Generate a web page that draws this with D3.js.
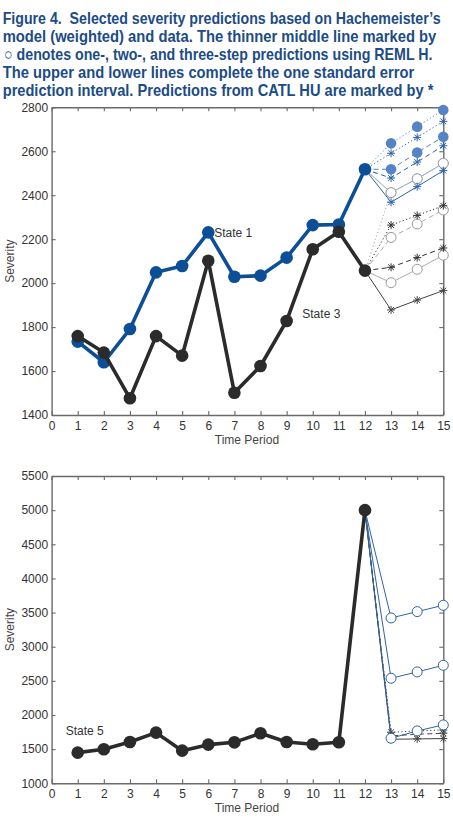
<!DOCTYPE html>
<html>
<head>
<meta charset="utf-8">
<script src="https://cdn.jsdelivr.net/npm/d3@7"></script>
<style>
  body { margin: 0; background: #fff; }
  svg { display: block; }
  .title { white-space: pre; }
</style>
</head>
<body>
<div id="chart-wrapper"></div>
<script>
// ---- data ----
let titleLines = [
  "Figure 4.  Selected severity predictions based on Hachemeister\u2019s",
  "model (weighted) and data. The thinner middle line marked by",
  "\u25CB denotes one-, two-, and three-step predictions using REML H.",
  "The upper and lower lines complete the one standard error",
  "prediction interval. Predictions from CATL HU are marked by *"
]
let periods = [1, 2, 3, 4, 5, 6, 7, 8, 9, 10, 11, 12]
let predPeriods = [13, 14, 15]
let xTicks = [0, 1, 2, 3, 4, 5, 6, 7, 8, 9, 10, 11, 12, 13, 14, 15]
let yTicksTop = [1400, 1600, 1800, 2000, 2200, 2400, 2600, 2800]
let yTicksBottom = [1000, 1500, 2000, 2500, 3000, 3500, 4000, 4500, 5000, 5500]

let state1 = [1734, 1640, 1791, 2049, 2078, 2231, 2029, 2034, 2116, 2264, 2267, 2518]
let state3 = [1759, 1684, 1476, 1759, 1670, 2102, 1501, 1623, 1828, 2154, 2234, 2057]
let state5 = [1449, 1498, 1605, 1742, 1478, 1566, 1600, 1732, 1605, 1572, 1601, 5000]

// predictions for periods 13-15 (upper / middle / lower)
let s1RemlUpper = [2636, 2712, 2788]
let s1RemlMid = [2518, 2594, 2666]
let s1RemlLower = [2412, 2475, 2545]
let s1CatlUpper = [2591, 2663, 2736]
let s1CatlMid = [2478, 2551, 2625]
let s1CatlLower = [2368, 2439, 2512]

let s3RemlUpper = [2412, 2475, 2545]
let s3RemlMid = [2208, 2269, 2333]
let s3RemlLower = [2002, 2063, 2127]
let s3CatlUpper = [2264, 2308, 2352]
let s3CatlMid = [2072, 2116, 2160]
let s3CatlLower = [1878, 1923, 1966]

let s5RemlUpper = [3421, 3514, 3607]
let s5RemlMid = [2538, 2631, 2728]
let s5RemlLower = [1660, 1767, 1855]
let s5CatlUpper = [1747, 1767, 1781]
let s5CatlMid = [1694, 1718, 1733]
let s5CatlLower = [1645, 1650, 1655]

let width = 453
let height = 819
let font = "'Liberation Sans', Arial, Helvetica, sans-serif"
let blueMain = "#0c4f96"
let dark = "#2b2b2b"
let dashed = "5,3.5"
let dotted = "1.2,2.4"

let svg = d3.select("#chart-wrapper")
  .append("svg")
  .attr("width", width)
  .attr("height", height)

// Title (condensed bold: squeeze each line horizontally to the width seen)
let titleBase = [23.5, 41.5, 59.5, 77.5, 95.5]
let titleLen = [438, 434, 429, 412, 431]
svg.append("g")
  .selectAll("text")
  .data(titleLines)
  .enter()
  .append("text")
  .attr("class", "title")
  .attr("font-family", "'Liberation Sans Narrow', 'Arial Narrow', 'Liberation Sans', sans-serif")
  .attr("font-weight", "bold")
  .attr("font-size", 16.5)
  .attr("fill", "#1c4c86")
  .text(d => d)
  .each(function (d, i) {
    let natural = this.getComputedTextLength()
    let sx = titleLen[i] / natural
    d3.select(this).attr("transform",
      `translate(${i == 2 ? 4 : 2.7},${titleBase[i]}) scale(${sx},1)`)
  })

// asterisk marker path (MATLAB style '*')
function star(cx, cy, s) {
  let k = s * 0.72
  return `M${cx - s},${cy}H${cx + s}M${cx},${cy - s}V${cy + s}` +
    `M${cx - k},${cy - k}L${cx + k},${cy + k}M${cx - k},${cy + k}L${cx + k},${cy - k}`
}

function panel(o) {
  let x = d3.scaleLinear().domain([0, 15]).range([o.left, o.right])
  let y = d3.scaleLinear().domain([o.yTicks[0], o.yTicks[o.yTicks.length - 1]]).range([o.bottom, o.top])
  let g = svg.append("g")

  // axes (box with inward ticks)
  g.append("g").attr("class", "ax")
    .attr("transform", `translate(0,${o.bottom})`)
    .call(d3.axisBottom(x).tickValues(xTicks).tickSizeInner(-4).tickSizeOuter(0).tickPadding(6.5).tickFormat(d3.format("d")))
  g.append("g").attr("class", "ax")
    .attr("transform", `translate(0,${o.top})`)
    .call(d3.axisTop(x).tickValues(xTicks).tickSizeInner(-4).tickSizeOuter(0).tickFormat(""))
  g.append("g").attr("class", "ax")
    .attr("transform", `translate(${o.left},0)`)
    .call(d3.axisLeft(y).tickValues(o.yTicks).tickSizeInner(-4).tickSizeOuter(0).tickPadding(3.5).tickFormat(d3.format("d")))
  g.append("g").attr("class", "ax")
    .attr("transform", `translate(${o.right},0)`)
    .call(d3.axisRight(y).tickValues(o.yTicks).tickSizeInner(-4).tickSizeOuter(0).tickFormat(""))
  g.selectAll(".ax path").attr("stroke", "#6a6a6a").attr("stroke-width", 1.4)
  g.selectAll(".ax line").attr("stroke", "#6a6a6a").attr("stroke-width", 1.1)
  g.selectAll(".ax text").attr("fill", "#333").attr("font-size", 12).attr("font-family", font)

  // axis titles
  g.append("text")
    .attr("x", (o.left + o.right) / 2 - 0.5)
    .attr("y", o.bottom + 29)
    .attr("text-anchor", "middle")
    .attr("font-family", font).attr("font-size", 12).attr("fill", "#444")
    .text("Time Period")
  g.append("text")
    .attr("transform", `translate(14,${(o.top + o.bottom) / 2}) rotate(-90)`)
    .attr("text-anchor", "middle")
    .attr("font-family", font).attr("font-size", 12).attr("fill", "#444")
    .text("Severity")

  let line = d3.line().x(d => x(d.t)).y(d => y(d.v))

  // prediction lines
  o.preds.forEach(p => {
    let pts = [{ t: 12, v: p.anchor }].concat(p.values.map((v, i) => ({ t: predPeriods[i], v: v })))
    g.append("path")
      .attr("d", line(pts))
      .attr("fill", "none")
      .attr("stroke", p.color)
      .attr("stroke-width", p.width || 1)
      .attr("stroke-dasharray", p.dash || null)
    let m = pts.slice(1)
    if (p.marker == "star") {
      g.selectAll(null).data(m).enter().append("path")
        .attr("d", d => star(x(d.t), y(d.v), 4))
        .attr("fill", "none")
        .attr("stroke", p.markColor || p.color)
        .attr("stroke-width", 1)
    } else {
      g.selectAll(null).data(m).enter().append("circle")
        .attr("cx", d => x(d.t))
        .attr("cy", d => y(d.v))
        .attr("r", p.marker == "filled" ? 5.3 : 5)
        .attr("fill", p.marker == "filled" ? p.color : "#fff")
        .attr("stroke", p.markColor || p.color)
        .attr("stroke-width", p.marker == "filled" ? 0 : 1)
    }
  })

  // observed series
  o.series.forEach(s => {
    let pts = s.values.map((v, i) => ({ t: periods[i], v: v }))
    g.append("path")
      .attr("d", line(pts))
      .attr("fill", "none")
      .attr("stroke", s.color)
      .attr("stroke-width", 3.6)
      .attr("stroke-linejoin", "round")
    g.selectAll(null).data(pts).enter().append("circle")
      .attr("cx", d => x(d.t))
      .attr("cy", d => y(d.v))
      .attr("r", 6.3)
      .attr("fill", s.color)
  })

  // labels
  o.labels.forEach(l => {
    g.append("text")
      .attr("x", x(l.t) + l.dx)
      .attr("y", y(l.v))
      .attr("dy", "0.35em")
      .attr("font-family", font).attr("font-size", 12).attr("fill", "#333")
      .text(l.text)
  })
}

let bl1 = "#5583c3", bs1 = "#2a64aa", gr3 = "#ababab"
panel({
  left: 51.6, right: 443.3, top: 107.3, bottom: 415,
  yTicks: yTicksTop,
  preds: [
    { anchor: state1[11], values: s1RemlLower, color: "#8fa6c9", marker: "filled" },
    { anchor: state3[11], values: s3RemlUpper, color: gr3, dash: dotted, marker: "open", markColor: "#999" },
    { anchor: state1[11], values: s1CatlLower, color: bs1, marker: "star" },
    { anchor: state1[11], values: s1CatlMid, color: bs1, dash: dashed, marker: "star" },
    { anchor: state1[11], values: s1CatlUpper, color: bs1, dash: dotted, marker: "star" },
    { anchor: state1[11], values: s1RemlMid, color: bl1, dash: dashed, marker: "filled" },
    { anchor: state1[11], values: s1RemlUpper, color: bl1, dash: dotted, marker: "filled" },
    { anchor: state3[11], values: s3RemlLower, color: gr3, marker: "open", markColor: "#999" },
    { anchor: state3[11], values: s3RemlMid, color: gr3, dash: dashed, marker: "open", markColor: "#999" },
    { anchor: state3[11], values: s3CatlLower, color: "#444", marker: "star" },
    { anchor: state3[11], values: s3CatlMid, color: "#333", dash: dashed, marker: "star" },
    { anchor: state3[11], values: s3CatlUpper, color: "#333", dash: dotted, marker: "star" }
  ],
  series: [
    { values: state1, color: blueMain },
    { values: state3, color: dark }
  ],
  labels: [
    { text: "State 1", t: 6, v: state1[5], dx: 6 },
    { text: "State 3", t: 9.6, v: 1860, dx: 0 }
  ]
})

let bl5 = "#2f63a3"
panel({
  left: 51.6, right: 443.3, top: 476, bottom: 783.3,
  yTicks: yTicksBottom,
  preds: [
    { anchor: state5[11], values: s5CatlLower, color: "#444", marker: "star" },
    { anchor: state5[11], values: s5CatlMid, color: "#444", dash: dashed, marker: "star" },
    { anchor: state5[11], values: s5CatlUpper, color: "#444", dash: dotted, marker: "star" },
    { anchor: state5[11], values: s5RemlLower, color: bl5, marker: "open" },
    { anchor: state5[11], values: s5RemlMid, color: bl5, marker: "open" },
    { anchor: state5[11], values: s5RemlUpper, color: bl5, marker: "open" }
  ],
  series: [
    { values: state5, color: dark }
  ],
  labels: [
    { text: "State 5", t: 0.54, v: 1770, dx: 0 }
  ]
})
</script>
</body>
</html>
